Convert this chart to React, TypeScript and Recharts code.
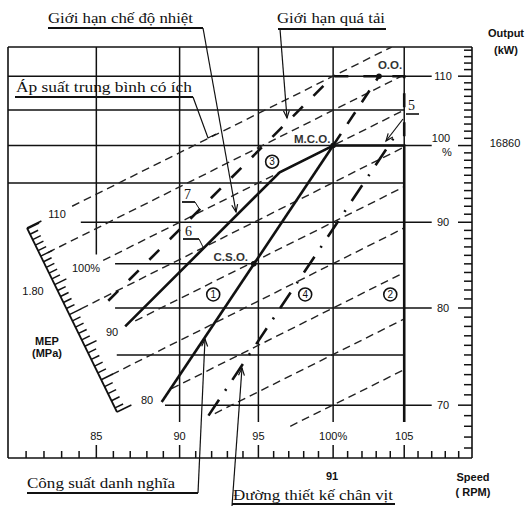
import React from 'react';
import { ComposedChart, Line, XAxis, YAxis, ReferenceLine, ReferenceDot } from 'recharts';

// ---- data (speed % / power %) ----
const speedTicks = [81, 82, 83, 84, 85, 86, 87, 88, 89, 90, 91, 92, 93, 94, 95, 96, 97, 98, 99, 100, 101, 102, 103, 104, 105, 106, 107, 108, 109];
const powerTicks = [66, 67, 68, 69, 70, 71, 72, 73, 74, 75, 76, 77, 78, 79, 80, 81, 82, 83, 84, 85, 86, 87, 88, 89, 90, 91, 92, 93, 94, 95, 96, 97, 98, 99, 100, 101, 102, 103, 104, 105, 106, 107, 108, 109, 110, 111, 112, 113, 114];
const mepRulerTicks = [81, 82, 83, 84, 85, 86, 87, 88, 89, 90, 91, 92, 93, 94, 95, 96, 97, 98, 99, 100, 101, 102, 103, 104, 105, 106, 107, 108, 109, 110];

// constant mean effective pressure lines (thin dashed)
const mep110 = [{ s: 83.6, p: 92.0 }, { s: 104.1, p: 114.5 }];
const mep105 = [{ s: 82.2, p: 86.3 }, { s: 104.8, p: 110.0 }];
const mep100 = [{ s: 85.4, p: 85.4 }, { s: 105, p: 105 }];
const mep95 = [{ s: 84.1, p: 79.9 }, { s: 105, p: 99.8 }];
const mep90 = [{ s: 87.3, p: 78.6 }, { s: 105, p: 94.5 }];
const mep85 = [{ s: 85.9, p: 73.0 }, { s: 105, p: 89.3 }];
const mep80 = [{ s: 89.5, p: 71.6 }, { s: 105, p: 84.0 }];
const mep75 = [{ s: 92.2, p: 69.2 }, { s: 105, p: 78.8 }];
const mep70 = [{ s: 97.1, p: 68.0 }, { s: 105, p: 73.5 }];
const mepLines = [mep110, mep105, mep100, mep95, mep90, mep85, mep80, mep75, mep70];

const line1 = [{ s: 88.9, p: 70.3 }, { s: 100, p: 100 }];
const line6 = [{ s: 86.7, p: 78.0 }, { s: 96.4, p: 96.4 }, { s: 100, p: 100 }];
const line7 = [{ s: 85.7, p: 80.8 }, { s: 100, p: 110 }, { s: 105, p: 110 }, { s: 105, p: 100 }];
const overload = [{ s: 100, p: 100 }, { s: 103.2, p: 110 }];
const limitBox = [{ s: 100, p: 100 }, { s: 105, p: 100 }, { s: 105, p: 68.4 }];
const propDesign = [{ s: 91.8, p: 69.0 }, { s: 104.3, p: 101.2 }];

const points = [
  { name: 'M.C.O.', s: 100, p: 100 },
  { name: 'C.S.O.', s: 94.7, p: 85 },
  { name: 'O.O.', s: 103.2, p: 110 },
];
const circled = [
  { name: '3', s: 95.9, p: 97.8 },
  { name: '1', s: 92.1, p: 81.5 },
  { name: '4', s: 98.1, p: 81.5 },
  { name: '2', s: 104.0, p: 81.5 },
];

// ---- layout ----
const W = 530;
const H = 506;
const M = { top: 47, right: 58, bottom: 48, left: 8 };
const PL = M.left, PT = M.top, PW = W - M.left - M.right, PH = H - M.top - M.bottom;
const S0 = 80, S1 = 110, P0 = 65.1, P1 = 114.5;
const INK = '#111';
const SANS = "'Liberation Sans', Arial, sans-serif";
const SERIF = "'Liberation Serif', 'Times New Roman', serif";

// grid segments: [value, from, to]
const hGrid = [
  [110, 80, 107], [105, 80, 105], [100, 80, 107], [95, 80, 105], [90, 84.1, 107],
  [85, 86.1, 105], [80, 86.1, 107], [75, 86.2, 105], [70, 89.1, 107],
];
const vGrid = [[85, 86.1, 114.5], [90, 68.4, 114.5], [95, 68.4, 114.5], [100, 68.4, 114.5], [105, 68.4, 114.5]];

const labelOffset: Record<string, [number, number]> = {
  'M.C.O.': [-21, -3],
  'C.S.O.': [-23, -3],
  'O.O.': [11, -7],
};

const SpeedTick = (props: any) => {
  const { x, payload } = props;
  const v = payload.value;
  const major = v % 5 === 0;
  const y0 = PT + PH;
  return (
    <g>
      <line x1={x} x2={x} y1={y0} y2={y0 - (major ? 13 : 7)} stroke={INK} strokeWidth={1.5} />
      {major && (
        <text x={x} y={440} textAnchor="middle" fontSize={11} fontFamily={SANS} fill={INK}>
          {v === 100 ? '100%' : v}
        </text>
      )}
    </g>
  );
};

const PowerTick = (props: any) => {
  const { y, payload } = props;
  const v = payload.value;
  const major = v % 10 === 0;
  const x0 = PL + PW;
  return (
    <g>
      <line x1={x0} x2={x0 - (major ? 14 : 8)} y1={y} y2={y} stroke={INK} strokeWidth={1.5} />
      {major && v !== 100 && (
        <text x={x0 - 29} y={y + 4} textAnchor="middle" fontSize={11} fontFamily={SANS} fill={INK}>
          {v}
        </text>
      )}
      {v === 100 && (
        <g>
          <text x={441} y={y - 4} textAnchor="middle" fontSize={11} fontFamily={SANS} fill={INK}>100</text>
          <text x={447} y={y + 10} textAnchor="middle" fontSize={11} fontFamily={SANS} fill={INK}>%</text>
        </g>
      )}
    </g>
  );
};

// pixel -> data helpers (same log mapping as the chart axes) for the slanted MEP ruler
const sOf = (x: number) => S0 * Math.exp(((x - PL) / PW) * Math.log(S1 / S0));
const pOf = (y: number) => P1 * Math.exp(-((y - PT) / PH) * Math.log(P1 / P0));

const MepRuler = () => {
  const A = { x: 27, y: 228 };
  const B = { x: 117, y: 412 };
  const L = Math.hypot(B.x - A.x, B.y - A.y);
  const u = { x: (B.x - A.x) / L, y: (B.y - A.y) / L };
  const n = { x: u.y, y: -u.x };
  const mA = (100 * pOf(A.y)) / sOf(A.x);
  const mB = (100 * pOf(B.y)) / sOf(B.x);
  return (
    <g stroke={INK} strokeWidth={1.5}>
      <line x1={A.x} y1={A.y} x2={B.x} y2={B.y} strokeWidth={1.8} />
      <line x1={A.x} y1={A.y} x2={A.x + n.x * 16} y2={A.y + n.y * 16} />
      <line x1={B.x} y1={B.y} x2={B.x + n.x * 16} y2={B.y + n.y * 16} />
      {mepRulerTicks.map((m) => {
        const t = (L * Math.log(mA / m)) / Math.log(mA / mB);
        const px = A.x + u.x * t;
        const py = A.y + u.y * t;
        const len = m % 5 === 0 ? 13 : 9;
        return <line key={m} x1={px} y1={py} x2={px + n.x * len} y2={py + n.y * len} />;
      })}
    </g>
  );
};

const Arrow = ({ fx, fy, tx, ty }: { fx: number; fy: number; tx: number; ty: number }) => {
  const a = Math.atan2(ty - fy, tx - fx);
  const len = 8;
  const sp = 0.38;
  return (
    <g fill="none" stroke={INK} strokeWidth={1.2}>
      <line x1={fx} y1={fy} x2={tx} y2={ty} />
      <polyline
        points={`${tx - len * Math.cos(a - sp)},${ty - len * Math.sin(a - sp)} ${tx},${ty} ${tx - len * Math.cos(a + sp)},${ty - len * Math.sin(a + sp)}`}
      />
    </g>
  );
};

const Note = ({ x, y, w, text, ux1, ux2, uy }: any) => (
  <g>
    <text x={x} y={y} fontSize={15} fontFamily={SERIF} fill={INK} textLength={w} lengthAdjust="spacingAndGlyphs">
      {text}
    </text>
    <line x1={ux1} x2={ux2} y1={uy} y2={uy} stroke={INK} strokeWidth={1.8} />
  </g>
);

const Overlay = () => (
  <svg width={W} height={H} style={{ position: 'absolute', left: 0, top: 0, pointerEvents: 'none' }}>
    <MepRuler />
    {/* MEP scale labels */}
    <g fontFamily={SANS} fontSize={11} fill={INK} textAnchor="middle">
      <text x={57} y={218}>110</text>
      <text x={86} y={272}>100%</text>
      <text x={33} y={295}>1.80</text>
      <text x={112} y={336}>90</text>
      <text x={147} y={404}>80</text>
      <text x={47} y={345} fontWeight="bold">MEP</text>
      <text x={47} y={357} fontWeight="bold">(MPa)</text>
      <text x={506} y={37} fontWeight="bold">Output</text>
      <text x={506} y={54} fontWeight="bold">(kW)</text>
      <text x={505} y={147}>16860</text>
      <text x={332} y={480} fontWeight="bold">91</text>
      <text x={473} y={481} fontWeight="bold">Speed</text>
      <text x={473} y={496} fontWeight="bold">( RPM)</text>
    </g>

    {/* annotations */}
    <Note x={48} y={23} w={145} text="Giới hạn chế độ nhiệt" ux1={48} ux2={203} uy={28} />
    <Arrow fx={203} fy={28} tx={236} ty={212} />

    <Note x={277} y={23} w={108} text="Giới hạn quá tải" ux1={278} ux2={386} uy={29} />
    <Arrow fx={280} fy={29} tx={287} ty={118} />

    <Note x={16} y={92} w={176} text="Áp suất trung bình có ích" ux1={15} ux2={193} uy={97} />
    <polyline points="193,97 208,138 216,134" fill="none" stroke={INK} strokeWidth={1.2} />

    <Note x={27} y={488} w={148} text="Công suất danh nghĩa" ux1={27} ux2={198} uy={493} />
    <Arrow fx={198} fy={493} tx={205} ty={339} />

    <Note x={233} y={500} w={160} text="Đường thiết kế chân vịt" ux1={232} ux2={395} uy={504} />
    <Arrow fx={232} fy={506} tx={242} ty={368} />

    {/* numbered line tags */}
    <g fontFamily={SERIF} fontSize={14} fill={INK}>
      <text x={184} y={199}>7</text>
      <text x={185} y={236}>6</text>
      <text x={408} y={110}>5</text>
    </g>
    <g stroke={INK} fill="none">
      <line x1={182} x2={195} y1={202} y2={202} strokeWidth={1.8} />
      <polyline points="195,202 200,210" strokeWidth={1} />
      <line x1={183} x2={199} y1={239} y2={239} strokeWidth={1.8} />
      <polyline points="199,239 203,247" strokeWidth={1} />
      <line x1={406} x2={419} y1={114} y2={114} strokeWidth={1.6} />
    </g>
    <Arrow fx={403} fy={119} tx={386} ty={141} />
  </svg>
);

const heavy = 2.6;

export default function App() {
  return (
    <div style={{ position: 'absolute', left: 0, top: 0, width: W, height: H, background: '#fff' }}>
      <ComposedChart width={W} height={H} margin={M}>
        <XAxis
          dataKey="s"
          type="number"
          scale="log"
          domain={[S0, S1]}
          allowDataOverflow
          ticks={speedTicks}
          interval={0}
          mirror
          tickLine={false}
          axisLine={{ stroke: INK, strokeWidth: 1.6 }}
          tick={(p: any) => <SpeedTick {...p} />}
        />
        <YAxis
          type="number"
          scale="log"
          domain={[P0, P1]}
          allowDataOverflow
          orientation="right"
          ticks={powerTicks}
          interval={0}
          mirror
          tickLine={false}
          axisLine={{ stroke: INK, strokeWidth: 1.6 }}
          tick={(p: any) => <PowerTick {...p} />}
        />

        {/* frame */}
        <ReferenceLine y={P1} stroke={INK} strokeWidth={1.6} />
        <ReferenceLine x={S0} stroke={INK} strokeWidth={1.6} />

        {hGrid.map(([p, a, b]) => (
          <ReferenceLine key={`h${p}`} segment={[{ x: a, y: p }, { x: b, y: p }]} stroke={INK} strokeWidth={1.5} />
        ))}
        {vGrid.map(([s, a, b]) => (
          <ReferenceLine key={`v${s}`} segment={[{ x: s, y: a }, { x: s, y: b }]} stroke={INK} strokeWidth={1.5} />
        ))}

        {mepLines.map((d, i) => (
          <Line
            key={`mep${i}`}
            data={d}
            dataKey="p"
            type="linear"
            stroke="#222"
            strokeWidth={1.4}
            strokeDasharray="8 5"
            dot={false}
            isAnimationActive={false}
          />
        ))}

        <Line data={line1} dataKey="p" type="linear" stroke={INK} strokeWidth={heavy} dot={false} isAnimationActive={false} />
        <Line data={line6} dataKey="p" type="linear" stroke={INK} strokeWidth={heavy} dot={false} isAnimationActive={false} />
        <Line data={limitBox} dataKey="p" type="linear" stroke={INK} strokeWidth={heavy} dot={false} isAnimationActive={false} />
        <Line
          data={line7}
          dataKey="p"
          type="linear"
          stroke={INK}
          strokeWidth={heavy}
          strokeDasharray="14 15"
          dot={false}
          isAnimationActive={false}
        />
        <Line
          data={overload}
          dataKey="p"
          type="linear"
          stroke={INK}
          strokeWidth={heavy}
          strokeDasharray="14 12"
          dot={false}
          isAnimationActive={false}
        />
        <Line
          data={propDesign}
          dataKey="p"
          type="linear"
          stroke={INK}
          strokeWidth={heavy}
          strokeDasharray="19 11 2 11"
          dot={false}
          isAnimationActive={false}
        />

        {points.map((pt) => (
          <ReferenceDot
            key={pt.name}
            x={pt.s}
            y={pt.p}
            r={2.5}
            shape={(props: any) => (
              <g>
                <circle cx={props.cx} cy={props.cy} r={2.8} fill={INK} />
                <text
                  x={props.cx + labelOffset[pt.name][0]}
                  y={props.cy + labelOffset[pt.name][1]}
                  textAnchor="middle"
                  fontSize={11.5}
                  fontWeight="bold"
                  fontFamily={SANS}
                  fill="#333"
                >
                  {pt.name}
                </text>
              </g>
            )}
          />
        ))}
        {circled.map((c) => (
          <ReferenceDot
            key={`c${c.name}`}
            x={c.s}
            y={c.p}
            r={7}
            shape={(props: any) => (
              <g>
                <circle cx={props.cx} cy={props.cy} r={6.5} fill="#fff" stroke={INK} strokeWidth={1.6} />
                <text x={props.cx} y={props.cy + 3.6} textAnchor="middle" fontSize={10} fontFamily={SANS} fill={INK}>
                  {c.name}
                </text>
              </g>
            )}
          />
        ))}
      </ComposedChart>
      <Overlay />
    </div>
  );
}
